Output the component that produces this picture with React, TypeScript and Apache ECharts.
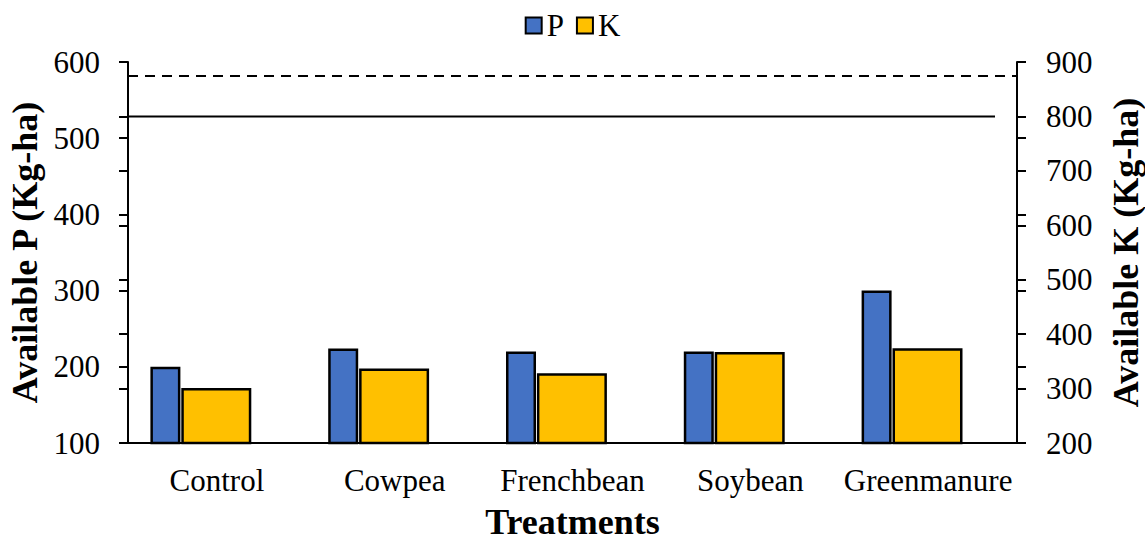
import React, { useEffect, useRef } from "react";
import * as echarts from "echarts";

const categories = ["Control", "Cowpea", "Frenchbean", "Soybean", "Greenmanure"];
const pValues = [200, 224, 220, 220, 300];
const kValues = [301, 337, 328, 367, 374];
const pRefLine = 582; // dashed line, P axis
const kRefLine = 800; // solid line, K axis
const pTicks = { min: 100, max: 600, interval: 100 };
const kTicks = { min: 200, max: 900, interval: 100 };

const FONT = "'Liberation Serif', 'Times New Roman', serif";

export default function App() {
  const ref = useRef<HTMLDivElement>(null);
  useEffect(() => {
    if (!ref.current) return;
    const chart = echarts.init(ref.current, null, { renderer: "svg" });
    const gridRect = { left: 128, right: 128, top: 62, bottom: 96 };
    const tickStyle = { show: true, inside: false, length: 9, lineStyle: { color: "#000", width: 2 } };
    const option: any = {
      animation: false,
      backgroundColor: "#fff",
      textStyle: { fontFamily: FONT, color: "#000" },
      legend: {
        data: ["P", "K"],
        top: 5,
        left: "center",
        icon: "rect",
        itemWidth: 16,
        itemHeight: 16,
        itemGap: 12,
        textStyle: { fontFamily: FONT, fontSize: 31, color: "#000" },
      },
      grid: [
        { ...gridRect, outerBoundsMode: "none" },
        { ...gridRect, outerBoundsMode: "none" },
      ],
      xAxis: [
        {
          type: "category",
          data: categories,
          gridIndex: 0,
          axisLine: { show: true, lineStyle: { color: "#000", width: 2 } },
          axisTick: { show: false },
          axisLabel: { fontFamily: FONT, fontSize: 31, color: "#000", margin: 22, interval: 0 },
          name: "Treatments",
          nameLocation: "middle",
          nameGap: 64,
          nameTextStyle: { fontFamily: FONT, fontSize: 36, lineHeight: 30, fontWeight: "bold", color: "#000" },
        },
        {
          type: "category",
          data: categories,
          gridIndex: 1,
          show: false,
        },
      ],
      yAxis: [
        {
          type: "value",
          gridIndex: 0,
          position: "left",
          ...pTicks,
          splitLine: { show: false },
          axisLine: { show: true, lineStyle: { color: "#000", width: 2 } },
          axisTick: tickStyle,
          axisLabel: { fontFamily: FONT, fontSize: 31, color: "#000", margin: 28 },
          name: "Available P (Kg-ha)",
          nameLocation: "middle",
          nameRotate: 90,
          nameGap: 84,
          nameTextStyle: { fontFamily: FONT, fontSize: 36, fontWeight: "bold", color: "#000" },
        },
        {
          type: "value",
          gridIndex: 0,
          position: "right",
          ...kTicks,
          splitLine: { show: false },
          axisLine: { show: true, lineStyle: { color: "#000", width: 2 } },
          axisTick: tickStyle,
          axisLabel: { fontFamily: FONT, fontSize: 31, color: "#000", margin: 29 },
          name: "Available K (Kg-ha)",
          nameLocation: "middle",
          nameRotate: 90,
          nameGap: 91,
          nameTextStyle: { fontFamily: FONT, fontSize: 36, fontWeight: "bold", color: "#000" },
        },
        {
          type: "value",
          gridIndex: 1,
          position: "left",
          ...kTicks,
          splitLine: { show: false },
          axisLine: { show: false },
          axisTick: tickStyle,
          axisLabel: { show: false },
        },
        {
          type: "value",
          gridIndex: 1,
          position: "right",
          ...pTicks,
          splitLine: { show: false },
          axisLine: { show: false },
          axisTick: tickStyle,
          axisLabel: { show: false },
        },
      ],
      series: [
        {
          name: "P",
          type: "bar",
          xAxisIndex: 0,
          yAxisIndex: 0,
          data: pValues,
          barWidth: 30,
          barGap: "3%",
          itemStyle: { color: "#4472C4", borderColor: "#000", borderWidth: 2.5 },
          markLine: {
            silent: true,
            symbol: "none",
            label: { show: false },
            lineStyle: { color: "#000", width: 2, type: [10, 7] },
            data: [{ yAxis: pRefLine }],
          },
        },
        {
          name: "K",
          type: "bar",
          xAxisIndex: 0,
          yAxisIndex: 1,
          data: kValues,
          barWidth: 70,
          barGap: "3%",
          itemStyle: { color: "#FFC000", borderColor: "#000", borderWidth: 2.5 },
        },
        {
          name: "spacer",
          type: "bar",
          xAxisIndex: 0,
          yAxisIndex: 0,
          data: categories.map(() => null),
          barWidth: 30,
          barGap: "3%",
          itemStyle: { color: "transparent" },
        },
      ],
    };
    chart.setOption(option);
    const y = chart.convertToPixel({ yAxisIndex: 1 }, kRefLine) as number;
    const x0 = chart.convertToPixel({ xAxisIndex: 0 }, categories[0]) as number;
    const x4 = chart.convertToPixel({ xAxisIndex: 0 }, categories[categories.length - 1]) as number;
    const band = (x4 - x0) / (categories.length - 1);
    const left = x0 - band / 2;
    const right = x4 + band / 2 - 22;
    chart.setOption({
      graphic: [
        {
          type: "line",
          shape: { x1: left, y1: y, x2: right, y2: y },
          style: { stroke: "#000", lineWidth: 2 },
          z: 10,
        },
      ],
    });
    return () => chart.dispose();
  }, []);
  return (
    <div
      ref={ref}
      style={{ position: "fixed", left: 0, top: 0, width: 1145, height: 539, background: "#fff" }}
    />
  );
}
